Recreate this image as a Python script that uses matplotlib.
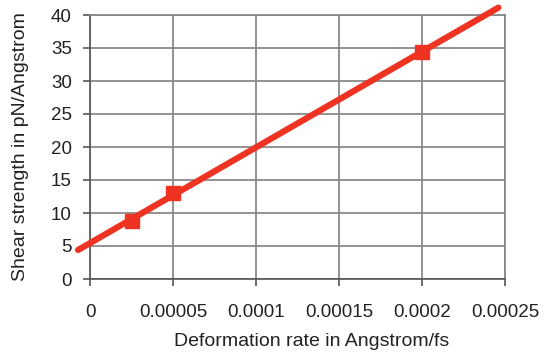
import numpy as np
import matplotlib
matplotlib.use('Agg')
import matplotlib.pyplot as plt

plt.rcParams['font.family'] = ['Liberation Sans', 'DejaVu Sans']

# measured points: deformation rate (Angstrom/fs) vs shear strength (pN/Angstrom)
rate = [0.000025, 0.00005, 0.0002]
strength = [8.8, 13.0, 34.4]

# linear trendline, extended a little past both ends of the data
trend_x = [-0.0000072, 0.000246]

x_ticks = [0, 0.00005, 0.0001, 0.00015, 0.0002, 0.00025]
x_ticklabels = ['0', '0.00005', '0.0001', '0.00015', '0.0002', '0.00025']
y_ticks = [0, 5, 10, 15, 20, 25, 30, 35, 40]

red = '#ee3322'
grid_c = '#8a8a8a'
text_c = '#222222'

fig = plt.figure(figsize=(5.46, 3.58), dpi=100)
ax = fig.add_axes([90 / 546, 1 - 279 / 358, 415 / 546, 264 / 358])

slope, icpt = np.polyfit(rate, strength, 1)
tx = np.array(trend_x)
ax.plot(tx, slope * tx + icpt, color=red, lw=4.5, solid_capstyle='round',
        clip_on=False, zorder=3)
ax.plot(rate, strength, ls='none', marker='s', ms=10, color=red, zorder=4)

ax.set_xlim(0, 0.00025)
ax.set_ylim(0, 40)
ax.set_xticks(x_ticks)
ax.set_xticklabels(x_ticklabels)
ax.set_yticks(y_ticks)
ax.grid(True, color=grid_c, lw=1.3)
ax.set_axisbelow(True)

for side in ['top', 'right']:
    ax.spines[side].set_color(grid_c)
    ax.spines[side].set_linewidth(1.3)
for side in ['left', 'bottom']:
    ax.spines[side].set_color('#555555')
    ax.spines[side].set_linewidth(1.2)

ax.tick_params(axis='y', length=5, width=1.2, color='#555555', pad=8,
               labelsize=13.5, labelcolor=text_c)
ax.tick_params(axis='x', length=5, width=1.2, color='#555555', pad=13,
               labelsize=13.5, labelcolor=text_c)

ax.set_xlabel('Deformation rate in Angstrom/fs', fontsize=14, color=text_c,
              va='center')
ax.set_ylabel('Shear strength in pN/Angstrom', fontsize=14, color=text_c,
              va='center')
ax.xaxis.set_label_coords((312 - 90) / 415, (279 - 341) / 264)
ax.yaxis.set_label_coords((20 - 90) / 415, 0.5)

fig.savefig('out.png', dpi=100)
